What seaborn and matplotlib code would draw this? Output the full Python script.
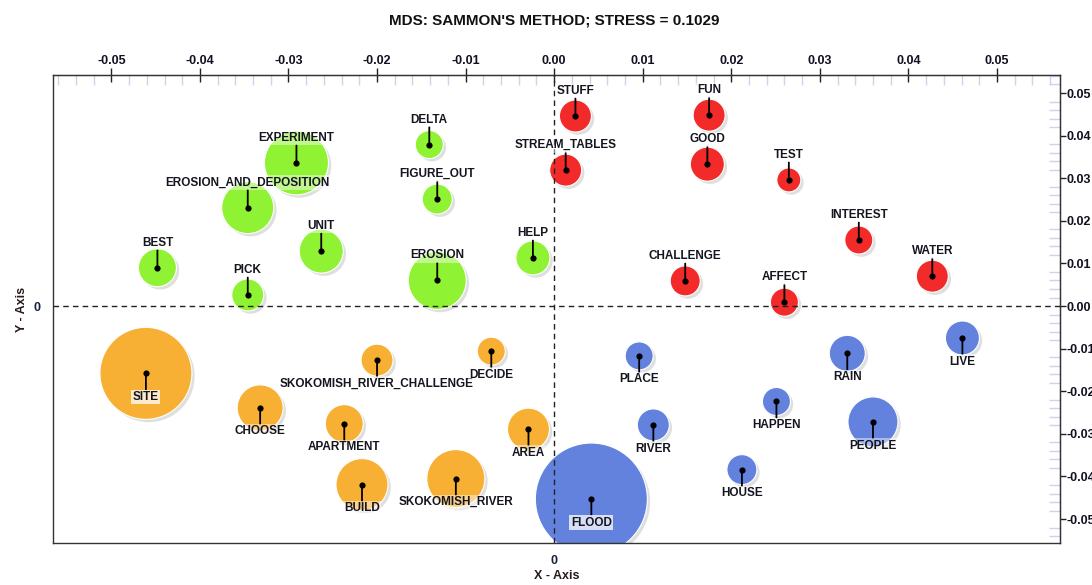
import numpy as np
import pandas as pd
import matplotlib
matplotlib.use("Agg")
import matplotlib.pyplot as plt
import matplotlib.patheffects as pe
from matplotlib.ticker import MultipleLocator, FuncFormatter
import seaborn as sns

# words, cluster and MDS coordinates
words = ["EXPERIMENT", "EROSION_AND_DEPOSITION", "UNIT", "BEST", "PICK", "DELTA", "FIGURE_OUT", "EROSION", "HELP",
         "STUFF", "FUN", "GOOD", "STREAM_TABLES", "TEST", "INTEREST", "CHALLENGE", "WATER", "AFFECT",
         "SITE", "SKOKOMISH_RIVER_CHALLENGE", "CHOOSE", "APARTMENT", "BUILD", "SKOKOMISH_RIVER", "DECIDE", "AREA",
         "FLOOD", "PLACE", "RIVER", "HAPPEN", "HOUSE", "RAIN", "PEOPLE", "LIVE"]
groups = ["g"] * 9 + ["r"] * 9 + ["o"] * 8 + ["b"] * 8
x_coord = [-0.0291, -0.0346, -0.0263, -0.0448, -0.0346, -0.0141, -0.0132, -0.0132, -0.0024,
           0.0024, 0.0175, 0.0173, 0.0013, 0.0265, 0.0344, 0.0148, 0.0427, 0.0260,
           -0.0461, -0.0200, -0.0332, -0.0237, -0.0217, -0.0111, -0.0071, -0.0029,
           0.0042, 0.0096, 0.0112, 0.0251, 0.0212, 0.0331, 0.0360, 0.0461]
y_coord = [0.0336, 0.0231, 0.0129, 0.0090, 0.0026, 0.0379, 0.0251, 0.0060, 0.0113,
           0.0446, 0.0448, 0.0333, 0.0319, 0.0296, 0.0155, 0.0059, 0.0070, 0.0009,
           -0.0158, -0.0127, -0.0239, -0.0276, -0.0419, -0.0405, -0.0106, -0.0289,
           -0.0453, -0.0117, -0.0279, -0.0224, -0.0384, -0.0111, -0.0272, -0.0075]
# relative bubble weight (radius)
weight = [32, 26, 22, 19, 16, 14, 15, 29, 17,
          16, 16, 17, 16, 12, 14, 15, 16, 14,
          46, 16, 23, 19, 26, 29, 14, 21,
          56, 14, 16, 14, 15, 18, 25, 17]

df = pd.DataFrame({"word": words, "group": groups, "x": x_coord, "y": y_coord, "w": weight})

colors = {"g": "#8ff233", "r": "#f22a2a", "o": "#f7b034", "b": "#6282de"}
label_above = {"g": True, "r": True, "o": False, "b": False}
boxed = ["SITE", "FLOOD"]

sns.set_style("white")
plt.rcParams["font.family"] = ["Liberation Sans", "DejaVu Sans"]
plt.rcParams["font.weight"] = "bold"

fig, ax = plt.subplots(figsize=(10.92, 5.85), dpi=100)
fig.subplots_adjust(left=0.0483, right=0.9711, top=0.8718, bottom=0.0712)

# bubbles (radius px -> points^2)
sizes = (2 * df["w"].to_numpy() * 0.72) ** 2
sns.scatterplot(data=df, x="x", y="y", hue="group", palette=colors, s=sizes, legend=False,
                edgecolor=(1, 1, 1, 0.35), linewidth=0.8, alpha=1, ax=ax, zorder=2)
ax.collections[-1].set_path_effects([
    pe.SimplePatchShadow(offset=(2, -2), shadow_rgbFace="#b0b0b0", alpha=0.4),
    pe.Normal()])

ax.axhline(0, color="#222222", lw=1, ls=(0, (4, 3)), zorder=3)
ax.axvline(0, color="#222222", lw=1, ls=(0, (4, 3)), zorder=3)

# centre dots
sns.scatterplot(data=df, x="x", y="y", color="black", s=20, legend=False, linewidth=0, ax=ax, zorder=5)

for _, row in df.iterrows():
    up = label_above[row["group"]]
    box = dict(boxstyle="square,pad=0.12", fc="white", ec="none",
               alpha=0.75 if row["word"] in boxed else 0.45)
    ax.annotate(row["word"], xy=(row["x"], row["y"]), xytext=(0, 18 if up else -17),
                textcoords="offset points", ha="center", va="center",
                fontsize=8.5, fontweight="bold", color="#151520", bbox=box, zorder=6,
                arrowprops=dict(arrowstyle="-", color="black", lw=1.3, shrinkA=0, shrinkB=0))

ax.set_xlim(-0.05662, 0.05717)
ax.set_ylim(-0.0557, 0.05423)

# main axes: only the zero tick
ax.set_xticks([0])
ax.set_yticks([0])
ax.set_xticklabels(["0"])
ax.set_yticklabels(["0"])
ax.tick_params(axis="both", direction="out", length=5, width=1, labelsize=9,
               labelcolor="#1a2040", color="#222222")
ax.set_xlabel("X - Axis", fontsize=9, fontweight="bold", color="#2a1a1a", labelpad=2)
ax.set_ylabel("Y - Axis", fontsize=9, fontweight="bold", color="#2a1a1a", labelpad=4)
for sp in ax.spines.values():
    sp.set_visible(True)
    sp.set_color("#333333")
    sp.set_linewidth(1)

fmt = FuncFormatter(lambda v, p: ("%.2f" % v).replace("-0.00", "0.00"))

secx = ax.secondary_xaxis("top")
secx.xaxis.set_major_locator(MultipleLocator(0.01))
secx.xaxis.set_minor_locator(MultipleLocator(0.002))
secx.xaxis.set_major_formatter(fmt)
secx.tick_params(which="major", direction="inout", length=10, width=1, labelsize=9,
                 labelcolor="#111122", color="#222222", pad=1)
secx.tick_params(which="minor", direction="in", length=7, width=1, color="#d0d0f0")

secy = ax.secondary_yaxis("right")
secy.yaxis.set_major_locator(MultipleLocator(0.01))
secy.yaxis.set_minor_locator(MultipleLocator(0.002))
secy.yaxis.set_major_formatter(fmt)
secy.tick_params(which="major", direction="out", length=4, width=1, labelsize=9,
                 labelcolor="#111122", color="#222222", pad=0.5)
secy.tick_params(which="minor", direction="in", length=8, width=1, color="#d0d0f0")

fig.text(0.508, 0.965, "MDS: SAMMON'S METHOD; STRESS = 0.1029", ha="center", va="center",
         fontsize=11, fontweight="bold", color="#111111")

fig.savefig("out.png", dpi=100)
